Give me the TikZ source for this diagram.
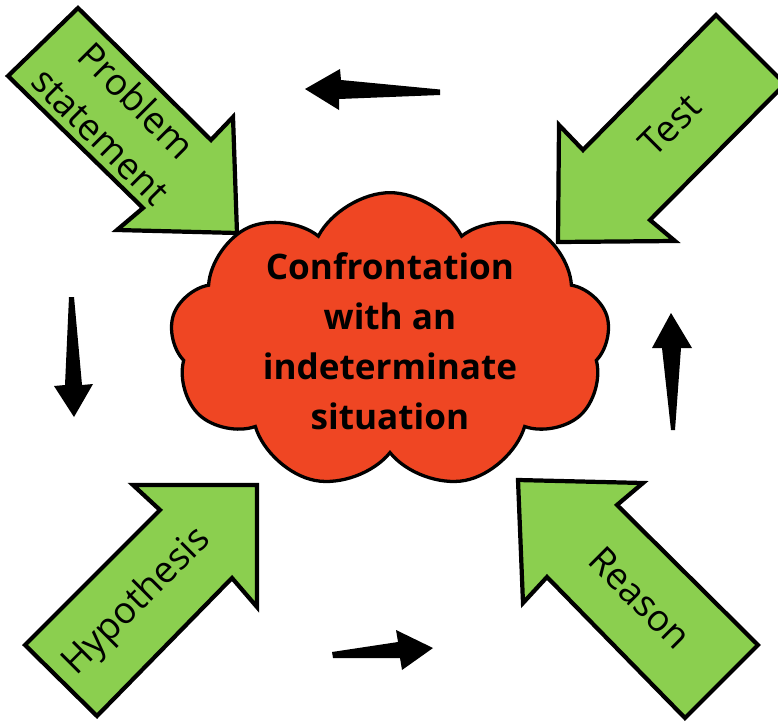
\documentclass[tikz,border=0pt]{standalone}
\usepackage{fontspec}
\setmainfont{Open Sans}
\usetikzlibrary{shapes.symbols}
\definecolor{leafgreen}{HTML}{8BCF4F}
\definecolor{cloudred}{HTML}{EF4623}
\begin{document}
\begin{tikzpicture}[x=0.03cm,y=-0.03cm,
    bigarrow/.style={fill=leafgreen,draw=black,line width=3.6pt,line join=miter},
    steplabel/.style={font=\fontsize{31.5}{43.5}\selectfont,align=center,inner sep=0pt},
    cyclearrow/.style={fill=black}]
  \clip (0,0) rectangle (778,721);
  % green arrows towards the cloud
  \draw[bigarrow] (8,76) -- (78,8) -- (211,140) -- (233,117) -- (237,233) -- (117,230) -- (143,208) -- cycle;
  \draw[bigarrow] (716,15) -- (785,84) -- (650,220) -- (675,241) -- (558,242) -- (559,125) -- (583,150) -- cycle;
  \draw[bigarrow] (25,645) -- (160,510) -- (133,485) -- (257,485) -- (257,607) -- (232,578) -- (97,716) -- cycle;
  \draw[bigarrow] (758,645) -- (617,505) -- (643,483) -- (518,480) -- (523,603) -- (547,577) -- (685,718) -- cycle;
  \node[steplabel,rotate=-45] (problem) at (119,118) {Problem\\statement};
  \node[steplabel,rotate=45] (test) at (670,125) {Test};
  \node[steplabel,rotate=45] (hypothesis) at (137,602) {Hypothesis};
  \node[steplabel,rotate=-45] (reason) at (640,598) {Reason};
  % the cloud
  \node[cloud,cloud puffs=9,cloud puff arc=125,cloud ignores aspect,
        minimum width=13.2cm,minimum height=8.9cm,
        fill=cloudred,draw=black,line width=2.8pt] (situation) at (390,341) {};
  \node[font=\bfseries\fontsize{30}{42.7}\selectfont,align=center,inner sep=0pt] (confront) at (situation.center)
    {Confrontation\\with an\\indeterminate\\situation};
  % small arrows of the cycle
  \fill[cyclearrow] (440,89.5) -- (341,80) -- (340,69) -- (305,89) -- (339,110) -- (339,99) -- (440,95) -- cycle;
  \fill[cyclearrow] (69,297) -- (74,297) -- (82,385) -- (93,384) -- (74,417) -- (54,386) -- (65,385) -- cycle;
  \fill[cyclearrow] (332,652) -- (398,642) -- (396,630) -- (433,648) -- (402,670) -- (400,658) -- (333,658) -- cycle;
  \fill[cyclearrow] (671,313) -- (692,348) -- (681,348) -- (675,430) -- (671,430) -- (662,348) -- (652,348) -- cycle;
\end{tikzpicture}
\end{document}
